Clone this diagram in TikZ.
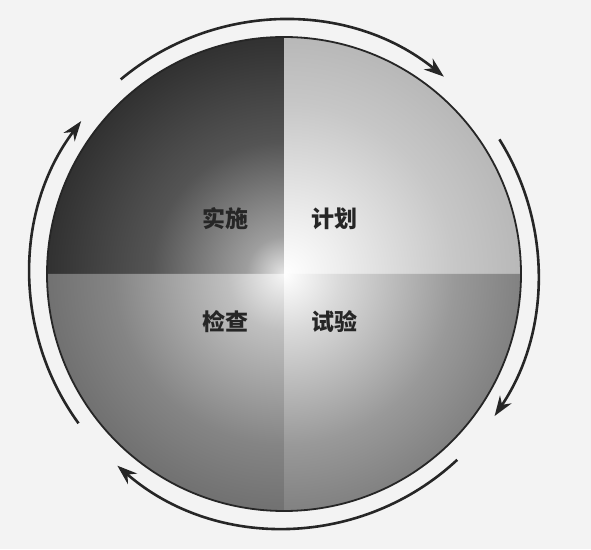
\documentclass[tikz,border=0pt]{standalone}
\usepackage{fontspec}
\newfontfamily\cjk{Noto Sans CJK SC}
\usetikzlibrary{arrows.meta,calc}
\definecolor{bgpaper}{HTML}{F3F3F3}
\definecolor{ink}{HTML}{262626}
\pgfdeclareradialshading{shTL}{\pgfpoint{0bp}{0bp}}{color(0bp)=(white!90!black); color(4bp)=(white!62!black); color(14bp)=(white!33!black); color(26bp)=(white!18!black); color(36bp)=(white!12!black); color(50bp)=(white!12!black)}
\pgfdeclareradialshading{shTR}{\pgfpoint{0bp}{0bp}}{color(0bp)=(white); color(6bp)=(white!93!black); color(18bp)=(white!78!black); color(36bp)=(white!63!black); color(50bp)=(white!63!black)}
\pgfdeclareradialshading{shBL}{\pgfpoint{0bp}{0bp}}{color(0bp)=(white!96!black); color(6bp)=(white!75!black); color(18bp)=(white!52!black); color(36bp)=(white!32!black); color(50bp)=(white!32!black)}
\pgfdeclareradialshading{shBR}{\pgfpoint{0bp}{0bp}}{color(0bp)=(white); color(6bp)=(white!85!black); color(18bp)=(white!60!black); color(36bp)=(white!36!black); color(50bp)=(white!36!black)}
\tikzset{
  cyclearrow/.style={draw=ink, line width=2.6pt, -{Stealth[length=20pt,width=14pt]}},
  label/.style={font=\cjk\bfseries\fontsize{23}{26}\selectfont, text=ink, inner sep=0pt},
}
\begin{document}
\begin{tikzpicture}[x=1pt,y=1pt]
\fill[bgpaper] (0,0) rectangle (591,549);
\useasboundingbox (0,0) rectangle (591,549);
\coordinate (C) at (284,275);
\def\R{237}
% quadrants
\begin{scope}
  \clip (C) -- ++(90:\R) arc[start angle=90,end angle=180,radius=\R] -- cycle;
  \shade[shading=shTL] (C) circle[radius=\R];
\end{scope}
\begin{scope}
  \clip (C) -- ++(0:\R) arc[start angle=0,end angle=90,radius=\R] -- cycle;
  \shade[shading=shTR] (C) circle[radius=\R];
\end{scope}
\begin{scope}
  \clip (C) -- ++(180:\R) arc[start angle=180,end angle=270,radius=\R] -- cycle;
  \shade[shading=shBL] (C) circle[radius=\R];
\end{scope}
\begin{scope}
  \clip (C) -- ++(270:\R) arc[start angle=270,end angle=360,radius=\R] -- cycle;
  \shade[shading=shBR] (C) circle[radius=\R];
\end{scope}
\node[circle, draw=ink, line width=1.8pt, minimum size=474pt, inner sep=0pt] (wheel) at (C) {};
% labels
\node[label] (do)    at (225,330) {实施};
\node[label] (plan)  at (334,330) {计划};
\node[label] (check) at (225,227) {检查};
\node[label] (test)  at (334,227) {试验};
% cycle arrows
\def\Ra{254}
\coordinate (a1) at ($(C)+(130:\Ra)$);
\coordinate (a2) at ($(C)+(32:\Ra)$);
\coordinate (a3) at ($(C)+(-47:\Ra)$);
\coordinate (a4) at ($(C)+(216:\Ra)$);
\draw[cyclearrow] (a1) arc[start angle=130,end angle=51,radius=\Ra];
\draw[cyclearrow] (a2) arc[start angle=32,end angle=-34,radius=\Ra];
\draw[cyclearrow] (a3) arc[start angle=-47,end angle=-131,radius=\Ra];
\draw[cyclearrow] (a4) arc[start angle=216,end angle=143,radius=\Ra];
\end{tikzpicture}
\end{document}
